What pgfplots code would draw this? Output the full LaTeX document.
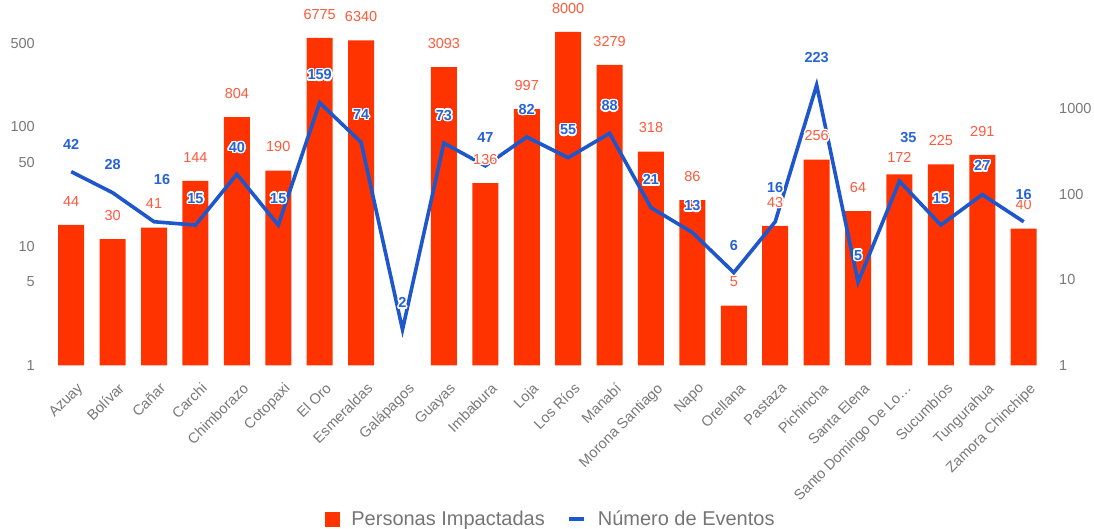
\documentclass[border=0pt]{standalone}
\usepackage{fontspec}
\setmainfont{Liberation Sans}
\usepackage{pgfplots}
\pgfplotsset{compat=1.18}
\usepackage{pgfplotstable}
\usepackage[copies]{contour}
\contourlength{1.4pt}
\contournumber{20}

\definecolor{barred}{RGB}{255,51,0}
\definecolor{barlab}{RGB}{255,90,60}
\definecolor{linecol}{RGB}{30,86,204}
\definecolor{linelab}{RGB}{38,99,214}
\definecolor{tickgray}{RGB}{120,120,120}
\definecolor{leggray}{RGB}{117,117,117}

\newcommand\tickfont{\fontsize{14.5}{16}\selectfont}
\newcommand\xfont{\fontsize{14.6}{16}\selectfont}
\newcommand\labfont{\fontsize{14.5}{16}\selectfont}
\newcommand\legfont{\fontsize{20}{22}\selectfont}

\pgfplotstableread{
x y lab dy
0 44 44 23
1 30 30 23
2 41 41 23
3 144 144 23
4 804 804 23
5 190 190 23
6 6775 6775 23
7 6340 6340 23
9 3093 3093 23
10 136 136 23
11 997 997 23
12 8000 8000 23
13 3279 3279 23
14 318 318 23
15 86 86 23
16 5 5 23
17 43 43 23
18 256 256 23
19 64 64 23
20 172 172 16
21 225 225 23
22 291 291 23
23 40 40 23
}\bardata

\pgfplotstableread{
x y lab dy dx
0 42 42 27 0
1 28 28 27 0
2 16 16 42 8
3 15 15 26 0
4 40 40 26 0
5 15 15 26 0
6 159 159 27 0
7 74 74 27 0
8 2 2 26 0
9 73 73 27 0
10 47 47 28 0
11 82 82 27 0
12 55 55 27 0
13 88 88 27 0
14 21 21 27 0
15 13 13 26 0
16 6 6 26 0
17 16 16 34 0
18 223 223 27 0
19 5 5 26 0
20 35 35 43 9
21 15 15 26 0
22 27 27 28 0
23 16 16 27 0
}\linedata

\begin{document}
\begin{tikzpicture}
\useasboundingbox (0,0) rectangle (1094pt,529pt);

% bars (right-hand scale)
\begin{axis}[ymode=log, scale only axis, width=993.9pt, height=345.5pt,
  at={(50.5pt,163.5pt)}, anchor=south west,
  xmin=-0.5, xmax=23.5, ymin=1, ymax=10987, clip=false,
  axis line style={draw=none}, major tick style={draw=none}, minor tick style={draw=none},
  xtick=\empty,
  ytick={1,10,100,1000}, yticklabels={1,10,100,1000}, minor ytick={},
  yticklabel pos=right,
  yticklabel style={anchor=west, inner sep=0pt, xshift=14.6pt, font=\tickfont, text=tickgray}]
\addplot[ybar, bar width=26pt, fill=barred, draw=none] table[x=x,y=y]{\bardata};
\end{axis}

% line (left-hand scale), category labels, legend
\begin{axis}[ymode=log, scale only axis, width=993.9pt, height=345.5pt,
  at={(50.5pt,163.5pt)}, anchor=south west,
  xmin=-0.5, xmax=23.5, ymin=1, ymax=782.9, clip=false,
  axis line style={draw=none}, major tick style={draw=none}, minor tick style={draw=none},
  ytick={1,5,10,50,100,500}, yticklabels={1,5,10,50,100,500}, minor ytick={},
  yticklabel style={anchor=east, inner sep=0pt, xshift=-15.5pt, font=\tickfont, text=tickgray},
  xtick={0,1,2,3,4,5,6,7,8,9,10,11,12,13,14,15,16,17,18,19,20,21,22,23},
  xticklabels={Azuay,Bolívar,Cañar,Carchi,Chimborazo,Cotopaxi,El Oro,Esmeraldas,Galápagos,Guayas,Imbabura,Loja,Los Ríos,Manabí,Morona Santiago,Napo,Orellana,Pastaza,Pichincha,Santa Elena,{Santo Domingo De Lo…},Sucumbíos,Tungurahua,Zamora Chinchipe},
  xticklabel style={rotate=45, anchor=north east, inner sep=0pt, xshift=-8pt, yshift=-15pt, font=\xfont, text=tickgray},
  legend columns=2,
  legend style={at={(axis description cs:0.5036,-0.444)}, anchor=center,
    draw=none, fill=none, font=\legfont, text=leggray,
    /tikz/every odd column/.append style={column sep=10pt},
    /tikz/every even column/.append style={column sep=20pt},
    nodes={inner sep=2pt}},
]
\addlegendimage{legend image code/.code={\fill[barred] (0pt,-7pt) rectangle (13.5pt,7pt);}}
\addlegendentry{Personas Impactadas}
\addplot[linecol, line width=3.6pt, mark=none,
  legend image code/.code={\draw[linecol, line width=4pt] (0pt,0pt) -- (15pt,0pt);}]
  table[x=x,y=y]{\linedata};
\addlegendentry{Número de Eventos}
\end{axis}

% bar value labels
\begin{axis}[ymode=log, scale only axis, width=993.9pt, height=345.5pt,
  at={(50.5pt,163.5pt)}, anchor=south west,
  xmin=-0.5, xmax=23.5, ymin=1, ymax=10987, clip=false,
  hide axis]
\addplot[draw=none, mark=none,
  point meta=explicit symbolic,
  nodes near coords={\contour{white}{\pgfplotspointmeta}},
  nodes near coords align=center,
  visualization depends on={\thisrow{dy}\as\labdy},
  every node near coord/.append style={font=\labfont, text=barlab, inner sep=0pt, yshift=\labdy}]
  table[x=x,y=y,meta=lab]{\bardata};
\end{axis}

% line value labels
\begin{axis}[ymode=log, scale only axis, width=993.9pt, height=345.5pt,
  at={(50.5pt,163.5pt)}, anchor=south west,
  xmin=-0.5, xmax=23.5, ymin=1, ymax=782.9, clip=false,
  hide axis]
\addplot[draw=none, mark=none,
  point meta=explicit symbolic,
  nodes near coords={\contour{white}{\bfseries\pgfplotspointmeta}},
  nodes near coords align=center,
  visualization depends on={\thisrow{dy}\as\labdy},
  visualization depends on={\thisrow{dx}\as\labdx},
  every node near coord/.append style={font=\labfont, text=linelab, inner sep=0pt, xshift=\labdx, yshift=\labdy}]
  table[x=x,y=y,meta=lab]{\linedata};
\end{axis}
\end{tikzpicture}
\end{document}
